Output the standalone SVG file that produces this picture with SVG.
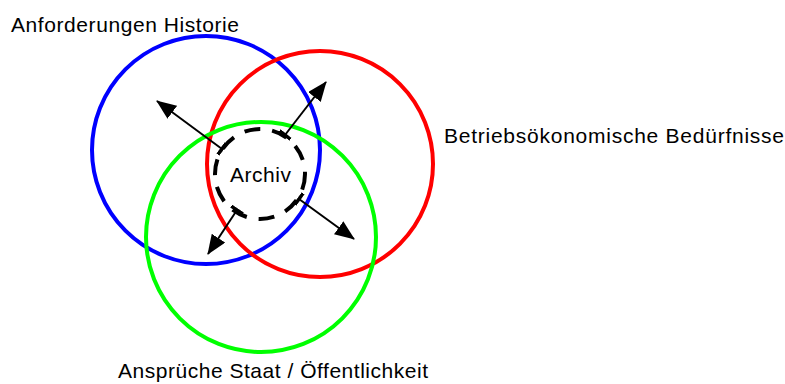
<svg xmlns="http://www.w3.org/2000/svg" width="785" height="384" viewBox="0 0 785 384">
<style>
.ring{fill:none;stroke-width:4}
.lbl{font-family:"Liberation Sans",Arial,sans-serif;font-size:21px;fill:#000}
.arr{stroke:#000;stroke-width:2;fill:none;marker-start:url(#tbar);marker-end:url(#head)}
</style>
<defs>
<marker id="head" markerUnits="userSpaceOnUse" markerWidth="20" markerHeight="16" refX="19" refY="8" orient="auto" viewBox="0 0 20 16">
<path d="M0,0 L20,8 L0,16 z" fill="#000"/>
</marker>
<marker id="tbar" markerUnits="userSpaceOnUse" markerWidth="4" markerHeight="14" refX="2" refY="7" orient="auto" viewBox="0 0 4 14">
<path d="M2,0 L2,14" stroke="#000" stroke-width="3.5"/>
</marker>
</defs>
<rect width="785" height="384" fill="#fff"/>
<g id="historie">
<circle class="ring" cx="206" cy="150" r="114" stroke="#0000ff"/>
<text class="lbl" x="11" y="32" textLength="228" lengthAdjust="spacing">Anforderungen Historie</text>
</g>
<g id="betrieb">
<circle class="ring" cx="320" cy="164" r="113" stroke="#ff0000"/>
<text class="lbl" x="444" y="143" textLength="340" lengthAdjust="spacing">Betriebsökonomische Bedürfnisse</text>
</g>
<g id="staat">
<circle class="ring" cx="261" cy="237" r="115" stroke="#00ff00"/>
<text class="lbl" x="118" y="378" textLength="310" lengthAdjust="spacing">Ansprüche Staat / Öffentlichkeit</text>
</g>
<g id="archiv">
<circle cx="260" cy="174" r="45" fill="none" stroke="#000" stroke-width="4" stroke-dasharray="16 12"/>
<text class="lbl" x="230" y="182" textLength="61" lengthAdjust="spacing">Archiv</text>
</g>
<g id="connectors">
<line class="arr" x1="222" y1="149" x2="157" y2="101"/>
<line class="arr" x1="285" y1="135" x2="326" y2="82"/>
<line class="arr" x1="299" y1="199" x2="354" y2="239"/>
<line class="arr" x1="237" y1="210" x2="208" y2="254"/>
</g>
</svg>
